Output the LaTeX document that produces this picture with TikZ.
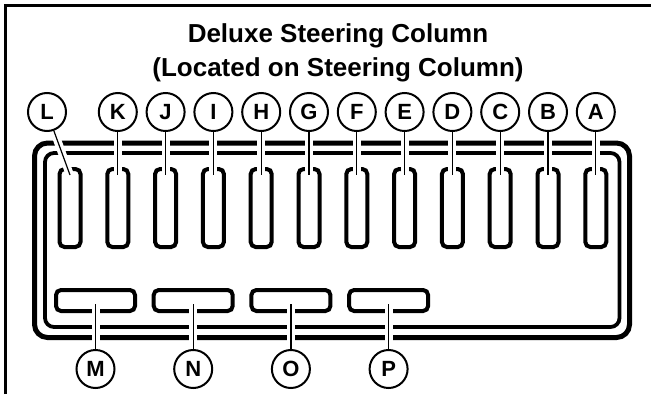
\documentclass[tikz,border=0pt]{standalone}
\usepackage{fontspec}
\setmainfont{Liberation Sans}
\begin{document}
\begin{tikzpicture}[x=1pt,y=-1pt,
  tallslot/.style={draw, line width=4pt, rounded corners=5pt, minimum width=21pt, minimum height=78pt, inner sep=0pt, outer sep=0pt},
  flatslot/.style={draw, line width=4pt, rounded corners=5pt, minimum width=79pt, minimum height=21pt, inner sep=0pt, outer sep=0pt},
  callout/.style={draw, circle, line width=2pt, minimum size=38pt, inner sep=0pt, font=\bfseries\fontsize{22}{22}\selectfont},
  leader/.style={line width=1.2pt, preaction={draw, white, line width=8pt, shorten <=2pt}},
  titletext/.style={font=\bfseries\fontsize{26}{30}\selectfont, anchor=base, inner sep=0pt},
  framebox/.style={line width=3pt},
  outerrim/.style={line width=5pt, rounded corners=13pt},
  innerrim/.style={line width=3.8pt, rounded corners=9pt}
]
\useasboundingbox (0,0) rectangle (651,394);

% cell frame (left and top only)
\draw[framebox] (5.5,394) -- (5.5,5.5) -- (651,5.5);

% title
\node[titletext] (title1) at (338,42) {Deluxe Steering Column};
\node[titletext] (title2) at (338,76) {(Located on Steering Column)};

% housing double rim
\draw[outerrim] (34.5,143) rectangle (629.5,337.5);
\draw[innerrim] (45,153) rectangle (619.5,327);

% tall slots
\foreach \n/\i in {L/0,K/1,J/2,I/3,H/4,G/5,F/6,E/7,D/8,C/9,B/10,A/11}{
  \pgfmathsetmacro{\cx}{70+47.8*\i}
  \node[tallslot] (s\n) at (\cx,208) {};
  \coordinate (e\n) at (\cx,175);
}

% flat slots
\foreach \n/\i in {M/0,N/1,O/2,P/3}{
  \pgfmathsetmacro{\cx}{95.5+97.7*\i}
  \node[flatslot] (s\n) at (\cx,300.5) {};
  \coordinate (e\n) at (\cx,304);
}

% callout circles, top row
\node[callout] (cL) at (47,112) {L};
\foreach \n/\i in {K/1,J/2,I/3,H/4,G/5,F/6,E/7,D/8,C/9,B/10,A/11}{
  \pgfmathsetmacro{\cx}{70+47.8*\i}
  \node[callout] (c\n) at (\cx,112) {\n};
}
% callout circles, bottom row
\foreach \n/\i in {M/0,N/1,O/2,P/3}{
  \pgfmathsetmacro{\cx}{95.5+97.7*\i}
  \node[callout] (c\n) at (\cx,369) {\n};
}

% leaders
\foreach \n in {L,K,J,I,H,G,F,E,D,C,B,A,M,N,O,P}{
  \draw[leader] (c\n) -- (e\n);
}
\end{tikzpicture}
\end{document}
